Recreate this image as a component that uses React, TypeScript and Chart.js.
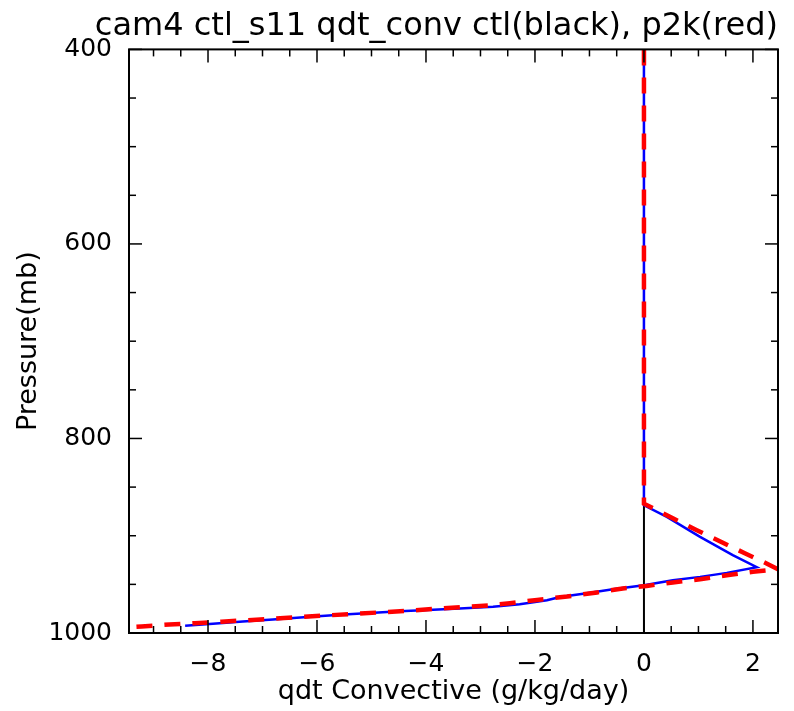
import React, { useEffect, useRef } from "react";
import { Chart, registerables } from "chart.js";

Chart.register(...registerables);

// ---- data ----
const titleText = "cam4 ctl_s11 qdt_conv ctl(black), p2k(red)";
const xTitle = "qdt Convective (g/kg/day)";
const yTitle = "Pressure(mb)";

const xMin = -9.45;
const xMax = 2.46;
const yMin = 400;
const yMax = 1000;
const xTicks = [-8, -6, -4, -2, 0, 2];
const yTicks = [400, 600, 800, 1000];
const xMinorStep = 0.5;
const yMinorStep = 50;

// ctl (blue solid)
const ctlX = [0, 0, 0.42, 1.03, 1.63, 2.07, 1.52, 1.03, 0.53, 0, -0.57, -1.05, -1.54, -1.78, -2.28, -2.77, -3.38, -3.87, -4.48, -5.03, -5.58, -6.18, -6.81, -7.36, -7.91, -8.42];
const ctlP = [400, 868.7, 880.7, 901.2, 920.0, 932.4, 938.2, 942.3, 945.7, 950.9, 955.0, 959.1, 962.9, 966.3, 970.4, 973.0, 974.8, 976.0, 977.6, 979.4, 981.3, 983.6, 986.0, 988.3, 990.6, 992.6];

// p2k (red dashed)
const p2kX = [0, 0, 0.53, 0.97, 1.43, 1.85, 2.25, 2.46, 2.0, 1.52, 1.03, 0.53, 0.05, -0.39, -0.86, -1.41, -1.96, -2.46, -2.86, -3.35, -3.83, -4.32, -4.81, -5.29, -5.78, -6.28, -6.77, -7.26, -7.75, -8.24, -8.71, -9.22, -9.45];
const p2kP = [400, 867, 882, 894.3, 906.7, 918, 928.5, 934.5, 937, 940.6, 944.7, 948, 951.6, 954.2, 958.3, 962.5, 966, 969.4, 971.8, 973.4, 975.2, 977.1, 978.7, 980.3, 981.8, 983.4, 985.2, 986.8, 988.4, 989.9, 991.3, 993.2, 994.0];

// zero reference (black)
const zeroX = [0, 0];
const zeroP = [400, 1000];

const toPts = (xs: number[], ys: number[]) => xs.map((x, i) => ({ x, y: ys[i] }));

const frameTicks = {
  id: "frameTicks",
  afterDraw(chart: any) {
    const { ctx, chartArea, scales } = chart;
    const { left, right, top, bottom } = chartArea;
    const xs = scales.x;
    const ys = scales.y;
    ctx.save();
    ctx.strokeStyle = "#000";
    ctx.lineWidth = 1.5;
    const seg = (x1: number, y1: number, x2: number, y2: number) => {
      ctx.beginPath();
      ctx.moveTo(x1, y1);
      ctx.lineTo(x2, y2);
      ctx.stroke();
    };
    const startX = Math.ceil(xMin / xMinorStep) * xMinorStep;
    for (let v = startX; v <= xMax + 1e-9; v += xMinorStep) {
      const vv = Math.round(v * 100) / 100;
      const px = xs.getPixelForValue(vv);
      const len = xTicks.includes(vv) ? 13 : 7;
      seg(px, bottom, px, bottom - len);
      seg(px, top, px, top + len);
    }
    for (let v = yMin; v <= yMax; v += yMinorStep) {
      const py = ys.getPixelForValue(v);
      const len = yTicks.includes(v) ? 13 : 7;
      seg(left, py, left + len, py);
      seg(right, py, right - len, py);
    }
    ctx.lineWidth = 2;
    ctx.strokeRect(left, top, right - left, bottom - top);
    ctx.restore();
  },
};

export default function App() {
  const ref = useRef<HTMLCanvasElement | null>(null);
  useEffect(() => {
    if (!ref.current) return;
    Chart.defaults.font.family = "'DejaVu Sans', sans-serif";
    Chart.defaults.color = "#000";
    const chart = new Chart(ref.current, {
      type: "scatter",
      data: {
        datasets: [
          {
            label: "p2k",
            data: toPts(p2kX, p2kP),
            showLine: true,
            borderColor: "#ff0000",
            backgroundColor: "#ff0000",
            borderWidth: 4.5,
            borderDash: [16, 12],
            pointRadius: 0,
            tension: 0,
            order: 0,
            clip: 0,
          },
          {
            label: "ctl",
            data: toPts(ctlX, ctlP),
            showLine: true,
            borderColor: "#0000ff",
            backgroundColor: "#0000ff",
            borderWidth: 2.5,
            pointRadius: 0,
            tension: 0,
            order: 1,
            clip: 0,
          },
          {
            label: "zero",
            data: toPts(zeroX, zeroP),
            showLine: true,
            borderColor: "#000000",
            backgroundColor: "#000000",
            borderWidth: 2,
            pointRadius: 0,
            tension: 0,
            order: 2,
            clip: 0,
          },
        ],
      },
      options: {
        responsive: false,
        animation: false,
        layout: { padding: { left: 0, right: 16, top: 0, bottom: 0 } },
        plugins: {
          legend: { display: false },
          tooltip: { enabled: false },
          title: {
            display: true,
            text: titleText,
            align: "end",
            color: "#000",
            font: { family: "'DejaVu Sans', sans-serif", size: 32, weight: "normal" },
            padding: { top: 7, bottom: 4 },
          },
        },
        scales: {
          x: {
            type: "linear",
            min: xMin,
            max: xMax,
            grid: { display: false },
            border: { display: false },
            afterBuildTicks: (scale: any) => {
              scale.ticks = xTicks.map((v) => ({ value: v }));
            },
            afterFit: (scale: any) => {
              scale.height = 78;
            },
            ticks: {
              padding: 8,
              maxRotation: 0,
              autoSkip: false,
              color: "#000",
              font: { size: 25 },
              callback: (v: any) => String(v).replace("-", "\u2212"),
            },
            title: {
              display: true,
              text: xTitle,
              color: "#000",
              font: { size: 27 },
              padding: { top: 0, bottom: 3 },
            },
          },
          y: {
            type: "linear",
            min: yMin,
            max: yMax,
            reverse: true,
            grid: { display: false },
            border: { display: false },
            afterBuildTicks: (scale: any) => {
              scale.ticks = yTicks.map((v) => ({ value: v }));
            },
            afterFit: (scale: any) => {
              scale.width = 129;
            },
            ticks: {
              padding: 9,
              autoSkip: false,
              color: "#000",
              font: { size: 25 },
              callback: (v: any) => String(v),
            },
            title: {
              display: true,
              text: yTitle,
              color: "#000",
              font: { size: 27 },
              padding: { top: 13, bottom: 0 },
            },
          },
        },
      },
      plugins: [frameTicks],
    } as any);
    return () => chart.destroy();
  }, []);
  return (
    <div style={{ position: "absolute", left: 0, top: 0, width: 794, height: 711, background: "#fff" }}>
      <canvas ref={ref} width={794} height={711} />
    </div>
  );
}
